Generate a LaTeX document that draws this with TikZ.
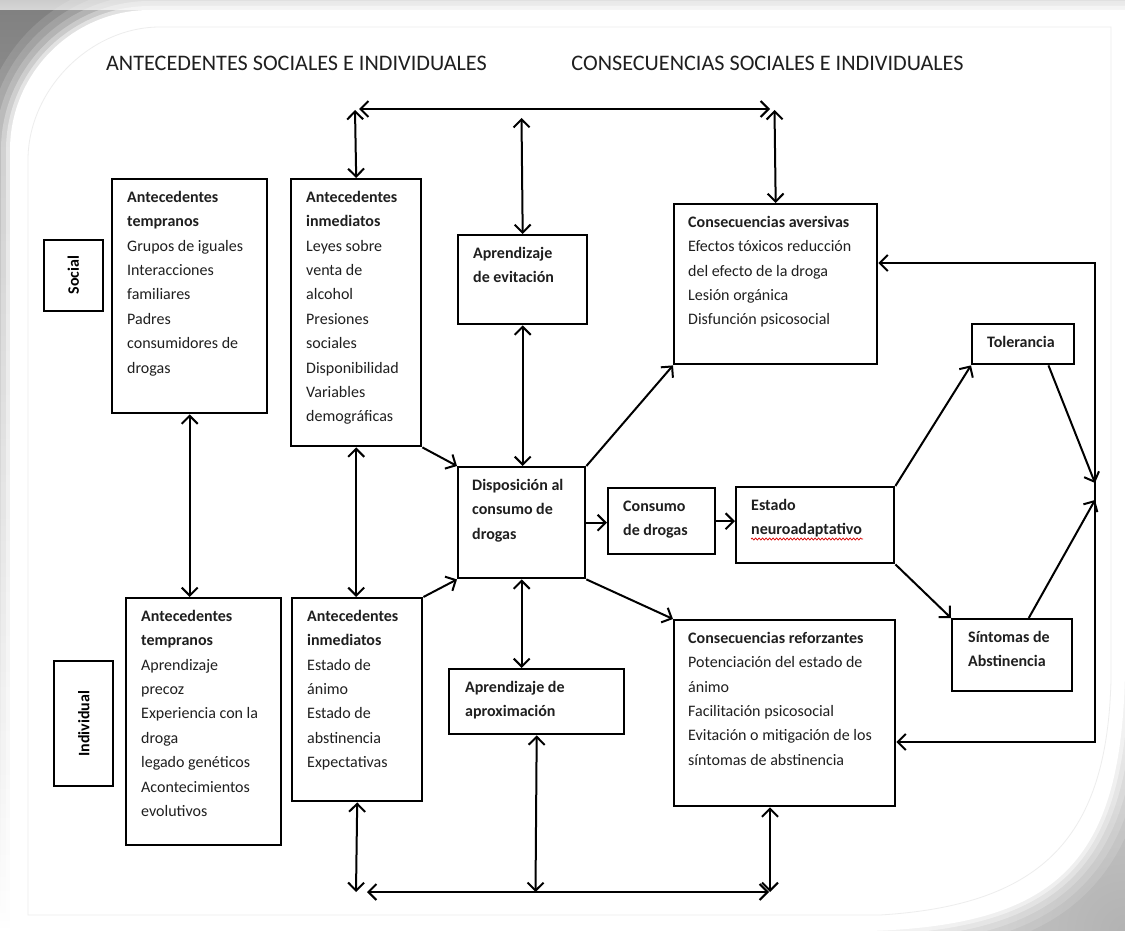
\documentclass[tikz,border=0pt]{standalone}
\usepackage{fontspec}
\setmainfont{Carlito}
\usetikzlibrary{arrows.meta,decorations.pathmorphing}
\definecolor{ink}{gray}{0.12}
\definecolor{shade}{gray}{0.84}
% fixed height of the first line of every box text
\newcommand{\fstrut}{\rule{0pt}{16pt}}
% outline of the white sheet behind the diagram
\newcommand{\cardpath}{(10,931) -- (10,150) .. controls (10,73) and (73,10) .. (150,10) -- (1125,10) -- (1125,670) .. controls (1122,860) and (1060,925) .. (870,931) -- cycle}
\newcommand{\innerpath}{(28,915) -- (28,160) .. controls (28,90) and (90,27) .. (160,27) -- (1111,27) -- (1111,680) .. controls (1107,835) and (1045,905) .. (880,915) -- cycle}

\begin{document}
\begin{tikzpicture}[x=1pt,y=-1pt,
  blk/.style={draw=black, line width=2.4pt, inner sep=0pt, anchor=north west},
  sidebox/.style={draw=black, line width=1.5pt, inner sep=0pt, anchor=north west},
  txt/.style={anchor=north west, inner sep=0pt, align=left, text=ink,
              font=\fontsize{16}{24.4}\selectfont},
  vert/.style={rotate=90, inner sep=0pt, text=black,
               font=\bfseries\fontsize{16}{16}\selectfont},
  hd/.style={inner sep=0pt, text=ink, font=\fontsize{22.2}{22}\selectfont},
  lnk/.style={line width=2pt, -{Straight Barb[length=8pt,width=16pt]}},
  dbl/.style={line width=2pt, {Straight Barb[length=8pt,width=16pt]}-{Straight Barb[length=8pt,width=16pt]}}
]
\useasboundingbox (0,0) rectangle (1125,931);

% sheet with soft shadow
\fill[shade] (0,0) rectangle (1125,931);
\shade[top color=gray!40, bottom color=shade] (0,0) rectangle (1125,10);
\shade[inner color=gray!60, outer color=shade] (1125,931) circle (300);
\foreach \w/\o in {60/0.12,44/0.15,30/0.2,18/0.3,8/0.45}{
  \draw[white, line width=\w pt, opacity=\o] \cardpath;
}
\fill[white] \cardpath;
\draw[gray!14, line width=0.8pt] \innerpath;

% headings
\node[hd] (tA) at (296.5,63) {ANTECEDENTES SOCIALES E INDIVIDUALES};
\node[hd] (tC) at (767.5,63) {CONSECUENCIAS SOCIALES E INDIVIDUALES};

% side labels
\node[sidebox, minimum width=59pt, minimum height=71pt] (soc) at (43,239) {};
\node[vert] (socT) at (soc.center) {Social};
\node[blk, minimum width=59pt, minimum height=125pt] (ind) at (53,660) {};
\node[vert] (indT) at (ind.center) {Individual};

% boxes
\node[blk, minimum width=155pt, minimum height=234pt] (b1) at (111,178) {};
\node[txt] (b1t) at (127,186) {\fstrut\textbf{Antecedentes}\\ \textbf{tempranos}\\ Grupos de iguales\\ Interacciones\\ familiares\\ Padres\\ consumidores de\\ drogas};

\node[blk, minimum width=130pt, minimum height=267pt] (b2) at (290,178) {};
\node[txt] (b2t) at (306,186) {\fstrut\textbf{Antecedentes}\\ \textbf{inmediatos}\\ Leyes sobre\\ venta de\\ alcohol\\ Presiones\\ sociales\\ Disponibilidad\\ Variables\\ demográficas};

\node[blk, minimum width=129pt, minimum height=89pt] (b3) at (457,234) {};
\node[txt] (b3t) at (473,242) {\fstrut\textbf{Aprendizaje}\\ \textbf{de evitación}};

\node[blk, minimum width=203pt, minimum height=160pt] (b4) at (673,203) {};
\node[txt] (b4t) at (688,211) {\fstrut\textbf{Consecuencias aversivas}\\ Efectos tóxicos reducción\\ del efecto de la droga\\ Lesión orgánica\\ Disfunción psicosocial};

\node[blk, minimum width=127pt, minimum height=111pt] (b5) at (457,466) {};
\node[txt] (b5t) at (472,474) {\fstrut\textbf{Disposición al}\\ \textbf{consumo de}\\ \textbf{drogas}};

\node[blk, minimum width=107pt, minimum height=66pt] (con) at (607,487) {};
\node[txt] (cont) at (623,495) {\fstrut\textbf{Consumo}\\ \textbf{de drogas}};

\node[blk, minimum width=158pt, minimum height=76pt] (est) at (735,486) {};
\node[txt] (estt) at (751,494) {\fstrut\textbf{Estado}\\ \textbf{neuroadaptativo}};

\node[blk, minimum width=102pt, minimum height=40pt] (tol) at (971,323) {};
\node[txt] (tolt) at (987,331) {\fstrut\textbf{Tolerancia}};

\node[blk, minimum width=120pt, minimum height=72pt] (sin) at (951,618) {};
\node[txt] (sint) at (968,626) {\fstrut\textbf{Síntomas de}\\ \textbf{Abstinencia}};

\node[blk, minimum width=155pt, minimum height=247pt] (b6) at (125,597) {};
\node[txt] (b6t) at (141,605) {\fstrut\textbf{Antecedentes}\\ \textbf{tempranos}\\ Aprendizaje\\ precoz\\ Experiencia con la\\ droga\\ legado genéticos\\ Acontecimientos\\ evolutivos};

\node[blk, minimum width=130pt, minimum height=203pt] (b7) at (291,597) {};
\node[txt] (b7t) at (307,605) {\fstrut\textbf{Antecedentes}\\ \textbf{inmediatos}\\ Estado de\\ ánimo\\ Estado de\\ abstinencia\\ Expectativas};

\node[blk, minimum width=175pt, minimum height=65pt] (b9) at (448,668) {};
\node[txt] (b9t) at (465,676) {\fstrut\textbf{Aprendizaje de}\\ \textbf{aproximación}};

\node[blk, minimum width=221pt, minimum height=186pt] (b8) at (673,619) {};
\node[txt] (b8t) at (688,627) {\fstrut\textbf{Consecuencias reforzantes}\\ Potenciación del estado de\\ ánimo\\ Facilitación psicosocial\\ Evitación o mitigación de los\\ síntomas de abstinencia};

% spell-check underline
\coordinate (sq1) at (751,539);
\coordinate (sq2) at (863,539);
\draw[red!85!black, line width=0.7pt, decorate,
      decoration={snake, amplitude=1pt, segment length=3.5pt}] (sq1) -- (sq2);

% upper link bar
\coordinate (busL) at (359,109);
\coordinate (busR) at (770,109);
\coordinate (tl) at (355,110);
\coordinate (tm) at (521.5,118);
\coordinate (tr) at (774.5,110);
\draw[dbl] (busL) -- (busR);
\draw[dbl] (tl) -- (b2.north);
\draw[dbl] (tm) -- (b3.north);
\draw[dbl] (tr) -- (b4.north);

% lower link bar
\coordinate (bbL) at (367,892);
\coordinate (bbR) at (769,892);
\coordinate (b7d) at (356,892);
\coordinate (b9d) at (535.5,892);
\coordinate (b8d) at (770,892);
\draw[dbl] (bbL) -- (bbR);
\draw[dbl] (b7.south) -- (b7d);
\draw[dbl] (b9.south) -- (b9d);
\draw[dbl] (b8.south -| b8d) -- (b8d);

% vertical links between rows
\draw[dbl] (b1.south) -- (b1.south |- b6.north);
\draw[dbl] (b2.south) -- (b2.south |- b7.north);
\draw[dbl] (b3.south) -- (b3.south |- b5.north);
\draw[dbl] (b5.south) -- (b5.south |- b9.north);

% flows into and out of the disposition
\draw[lnk] (b2.south east) -- (b5.north west);
\draw[lnk] (b7.north east) -- (b5.south west);
\draw[lnk] (b5.north east) -- (b4.south west);
\draw[lnk] (b5.south east) -- (b8.north west);
\draw[lnk] (b5.east) -- (b5.east -| con.west);
\draw[lnk] (con.east) -- (con.east -| est.west);
\draw[lnk] (est.north east) -- (tol.south west);
\draw[lnk] (est.south east) -- (sin.north west);

% feedback loop on the right
\coordinate (rt) at (1095,263);
\coordinate (rb) at (1095,742);
\coordinate (mt) at (1095,483);
\coordinate (mb) at (1095,500);
\draw[dbl] (b4.east |- rt) -- (rt) -- (rb) -- (b8.east |- rb);
\draw[lnk] (tol.-40) -- (mt);
\draw[lnk] (sin.66) -- (mb);
\end{tikzpicture}
\end{document}
